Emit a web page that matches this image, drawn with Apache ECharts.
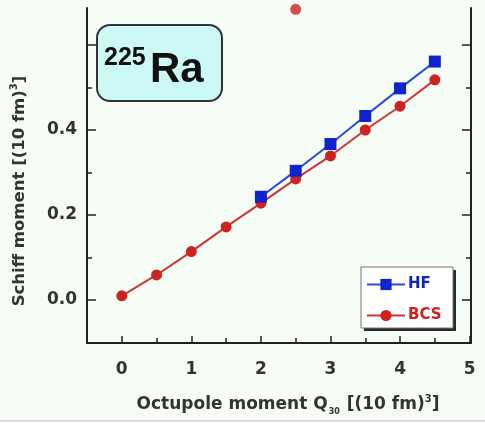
<!DOCTYPE html>
<html><head><meta charset="utf-8">
<script src="https://cdn.jsdelivr.net/npm/echarts@6/dist/echarts.min.js"></script>
<style>html,body{margin:0;padding:0;background:#f6fcf6;}#c{width:485px;height:423px;}</style>
</head><body><div id="c"></div>
<script>
// Data
const qValues = [0, 0.5, 1, 1.5, 2, 2.5, 3, 3.5, 4, 4.5];
const bcsValues = [0.010, 0.059, 0.114, 0.172, 0.228, 0.285, 0.339, 0.400, 0.456, 0.518];
const hfQ = [2, 2.5, 3, 3.5, 4, 4.5];
const hfValues = [0.243, 0.304, 0.367, 0.433, 0.498, 0.561];
const strayQ = [2.5];
const strayValues = [0.684];
const xMajor = [0, 1, 2, 3, 4, 5];
const xMinor = [0.5, 1.5, 2.5, 3.5, 4.5];
const yMajor = [0, 0.2, 0.4, 0.6];
const yLabels = [0, 0.2, 0.4];
const yMinor = [0.1, 0.3, 0.5];

const zip = (a, b) => a.map((v, i) => [v, b[i]]);
const chart = echarts.init(document.getElementById('c'));
const axisCol = '#222';
const FF = 'DejaVu Sans';
const lblStyle = {fontFamily: FF, fontWeight: 'bold', fontSize: 17, color: '#333'};
const X = {min: -0.5, max: 5.02};
const Y = {min: -0.101, max: 0.687};
function xAx(ticks, len, labels, line) {
  return Object.assign({type: 'value', gridIndex: 0, position: 'bottom', splitLine: {show: false},
    axisLine: {show: line, onZero: false, lineStyle: {color: axisCol, width: 2}},
    axisTick: {show: true, inside: true, length: len, customValues: ticks, lineStyle: {color: axisCol, width: 1.5}},
    axisLabel: labels ? Object.assign({show: true, margin: 18, customValues: labels}, lblStyle) : {show: false}}, X);
}
function yAx(pos, ticks, len, labels, line) {
  return Object.assign({type: 'value', gridIndex: 0, position: pos, splitLine: {show: false},
    axisLine: {show: line, onZero: false, lineStyle: {color: axisCol, width: 2}},
    axisTick: {show: true, inside: true, length: len, customValues: ticks, lineStyle: {color: axisCol, width: 1.5}},
    axisLabel: labels ? Object.assign({show: true, margin: 10, customValues: labels, formatter: v => v.toFixed(1)}, lblStyle) : {show: false}}, Y);
}
chart.setOption({
  backgroundColor: '#f6fcf6',
  animation: false,
  grid: {left: 87, right: 14, top: 8, bottom: 80},
  xAxis: [xAx(xMajor, 7, xMajor, true), xAx(xMinor, 5, null, false)],
  yAxis: [yAx('left', yMajor, 9, yLabels, true), yAx('left', yMinor, 5, null, false),
          yAx('right', yMajor, 9, null, true), yAx('right', yMinor, 5, null, false)],
  legend: {
    data: ['HF', 'BCS'], orient: 'vertical', left: 366, top: 277,
    itemWidth: 38, itemHeight: 14, itemGap: 16,
    padding: 0,
    backgroundColor: 'transparent', borderWidth: 0,
    textStyle: {fontFamily: FF, fontWeight: 'bold', fontSize: 15, color: 'inherit', padding: [0, 0, 0, -2]},
    z: 20
  },
  series: [
    {name: 'BCS', type: 'line', data: zip(qValues, bcsValues), symbol: 'circle', symbolSize: 11,
     itemStyle: {color: '#cc2222'}, lineStyle: {color: '#d03434', width: 2}, z: 3},
    {name: 'HF', type: 'line', data: zip(hfQ, hfValues), symbol: 'rect', symbolSize: 12,
     itemStyle: {color: '#1024cc'}, lineStyle: {color: '#2a48e6', width: 2}, z: 4},
    {name: 'stray', type: 'scatter', data: zip(strayQ, strayValues), symbol: 'circle', symbolSize: 11,
     itemStyle: {color: '#cc2222'}, clip: false, z: 2}
  ],
  graphic: [
    {type: 'rect', shape: {x: 364, y: 270, width: 92, height: 61}, style: {fill: '#2a2a2a'}, z: 10},
    {type: 'rect', shape: {x: 361, y: 267, width: 92, height: 61}, style: {fill: '#ffffff', stroke: '#777', lineWidth: 1}, z: 11},
    {type: 'rect', shape: {x: 97, y: 25, width: 125, height: 76, r: 13},
     style: {fill: '#ccf8f6', stroke: '#333', lineWidth: 2}, z: 10},
    {type: 'text', x: 104, y: 58, z: 11,
     style: {text: '225', align: 'left', verticalAlign: 'middle', fontSize: 25, fontWeight: 'bold', fontFamily: 'Liberation Sans', fill: '#111'}},
    {type: 'text', x: 150, y: 70, z: 11,
     style: {text: 'Ra', align: 'left', verticalAlign: 'middle', fontSize: 42, fontWeight: 'bold', fontFamily: 'Liberation Sans', fill: '#111'}},
    {type: 'text', x: 288, y: 405, z: 11,
     style: {text: '{t|Octupole moment Q}{sub|30}{t| [(10 fm)}{sup|3}{t|]}', align: 'center', verticalAlign: 'middle',
       rich: {t: {fontSize: 17, fontWeight: 'bold', fontFamily: FF, fill: '#333'},
              sub: {fontSize: 8, fontWeight: 'bold', fontFamily: FF, fill: '#333', padding: [14, 1, 0, 1]},
              sup: {fontSize: 10, fontWeight: 'bold', fontFamily: FF, fill: '#333', padding: [0, 0, 12, 0]}}}},
    {type: 'text', x: 20, y: 191, rotation: Math.PI / 2, z: 11,
     style: {text: '{t|Schiff moment [(10 fm)}{sup|3}{t|]}', align: 'center', verticalAlign: 'middle',
       rich: {t: {fontSize: 16.5, fontWeight: 'bold', fontFamily: FF, fill: '#333'},
              sup: {fontSize: 10, fontWeight: 'bold', fontFamily: FF, fill: '#333', padding: [0, 0, 11, 0]}}}},
    {type: 'rect', shape: {x: 0, y: 421, width: 485, height: 2}, style: {fill: '#ffffff'}, z: 11},
    {type: 'line', shape: {x1: 0, y1: 421, x2: 485, y2: 421}, style: {stroke: '#bbbbbb', lineWidth: 1}, z: 12}
  ]
});
</script></body></html>
